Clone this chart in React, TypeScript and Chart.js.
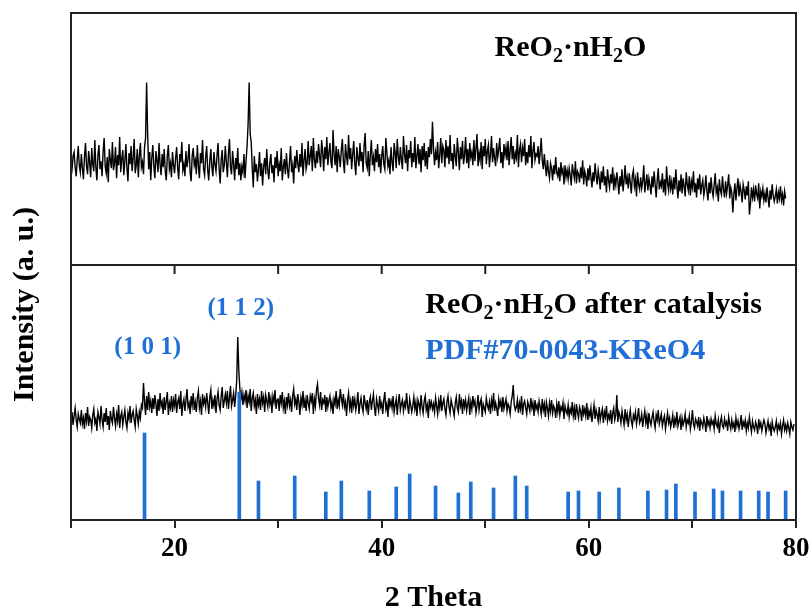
import React, { useEffect, useRef } from 'react';
import { Chart, registerables } from 'chart.js';

Chart.register(...registerables);

// 2θ grid of the measured patterns
const X_START = 10;
const X_STEP = 0.1;

// ReO2·nH2O (top panel), intensity a.u., 10.0 … 79.0 step 0.1
const topPattern = [
  100,95,108,112,97,88,104,118,99,92,
  110,96,85,107,121,98,90,113,102,87,
  116,100,93,124,97,84,109,119,95,103,
  88,112,126,98,91,107,82,115,104,96,
  122,94,101,117,86,109,99,127,92,105,
  114,89,103,120,96,83,111,100,118,93,
  106,125,91,99,115,87,108,121,97,102,
  90,117,126,181,130,95,112,84,106,119,
  98,86,113,104,92,121,100,89,110,97,
  115,93,84,108,119,95,101,87,112,99,
  91,106,117,96,85,110,102,122,94,100,
  88,113,97,105,120,92,83,108,116,99,
  104,90,119,98,86,111,101,124,95,89,
  107,118,94,84,103,115,97,88,112,100,
  93,109,121,96,81,104,114,92,99,118,
  102,87,110,125,97,90,113,100,84,106,
  95,116,89,101,84,98,92,110,86,103,
  118,140,181,130,122,96,77,108,92,100,
  83,95,112,88,101,79,98,106,90,115,
  94,85,102,110,91,99,82,107,96,113,
  88,100,93,116,84,97,105,90,111,95,
  86,103,118,92,99,81,108,96,114,100,
  92,110,97,121,88,104,115,95,101,123,
  99,108,118,93,126,104,96,113,101,120,
  108,97,124,112,93,117,105,127,99,111,
  121,102,96,134,110,99,118,92,115,107,
  97,114,125,103,91,120,108,99,129,105,
  116,95,110,123,100,89,117,106,98,121,
  103,112,92,118,131,101,96,113,88,109,
  124,99,107,93,115,102,120,97,110,91,
  108,118,100,95,126,111,98,104,90,117,
  102,93,121,112,96,125,108,99,117,104,
  95,128,110,101,119,93,114,106,123,97,
  111,102,127,96,108,120,100,115,92,118,
  104,121,98,113,95,117,107,125,110,142,
  115,99,112,104,122,96,109,126,101,118,
  114,97,124,106,118,100,129,103,111,95,
  120,108,98,126,112,94,117,105,123,100,
  109,127,101,115,96,121,107,112,99,124,
  103,116,130,98,111,104,122,95,118,108,
  125,100,113,119,97,110,128,102,116,106,
  98,121,107,115,126,101,112,96,120,109,
  117,104,123,99,113,127,105,118,100,111,
  106,129,97,114,120,102,116,108,125,99,
  112,101,119,107,128,96,113,122,104,110,
  108,118,100,112,126,104,95,110,98,88,
  104,93,86,101,96,84,99,90,107,92,
  88,97,83,102,91,95,80,99,87,94,
  85,96,89,79,100,92,86,103,81,93,
  90,82,97,86,104,80,93,88,78,96,
  84,99,87,77,92,83,101,89,80,94,
  86,75,93,82,98,79,88,72,95,84,
  77,90,81,97,74,86,79,92,83,70,
  88,78,95,73,84,99,80,87,76,91,
  82,71,89,94,78,85,68,92,80,75,
  87,76,83,99,72,81,90,74,86,79,
  70,88,77,93,80,67,84,96,75,82,
  78,91,72,85,69,98,81,74,89,76,
  83,70,87,75,95,79,66,84,73,90,
  71,86,78,68,92,80,74,88,69,83,
  77,93,72,81,67,86,75,90,70,79,
  84,69,76,89,73,64,82,71,87,74,
  68,80,91,72,77,63,85,74,70,88,
  75,67,83,71,79,90,66,77,72,52,
  70,81,64,76,86,68,79,73,62,80,
  74,65,78,69,83,50,60,77,67,75,
  63,79,70,66,81,56,73,68,76,64,
  71,62,77,67,57,74,65,80,69,63,
  68,75,61,72,66,78,64,70,59,73,
  66,
];

// ReO2·nH2O after catalysis (bottom panel), intensity a.u., 10.0 … 79.8 step 0.1
const bottomPattern = [
  98,108,95,104,112,100,93,106,101,97,
  110,96,102,91,107,99,113,94,103,100,
  92,105,111,97,101,89,108,103,96,114,
  100,93,107,98,112,95,104,90,109,101,
  97,113,102,94,106,99,115,92,104,108,
  95,103,110,98,92,107,101,114,97,105,
  109,100,93,111,104,96,108,102,115,112,
  137,118,105,124,110,128,113,119,107,122,
  111,125,116,104,121,109,127,114,118,106,
  123,110,119,128,105,117,112,124,108,120,
  114,126,107,118,122,111,129,104,116,121,
  109,120,131,113,117,106,124,115,127,110,
  118,108,122,129,112,119,105,126,116,121,
  113,127,117,106,123,130,111,120,114,125,
  107,121,128,115,110,124,133,112,119,126,
  117,129,111,122,134,114,120,127,113,124,
  140,183,150,132,121,128,115,125,119,130,
  112,124,118,131,109,122,127,114,120,106,
  126,115,121,110,129,117,123,108,125,119,
  113,128,116,122,107,124,118,130,111,120,
  121,109,125,117,128,112,119,106,123,115,
  127,114,120,108,124,131,116,121,110,126,
  118,105,122,115,129,112,120,109,125,117,
  111,124,119,127,106,121,114,130,136,122,
  115,128,110,120,117,125,108,123,113,119,
  124,112,118,106,121,116,129,111,120,114,
  131,122,115,126,113,118,104,120,127,112,
  119,107,124,114,121,110,117,128,106,116,
  122,113,108,125,117,111,120,105,118,123,
  110,119,126,112,104,121,115,109,124,113,
  117,106,120,128,111,116,103,122,114,119,
  112,124,108,115,121,105,118,126,110,116,
  120,109,117,113,127,114,106,121,115,108,
  114,123,111,118,104,120,116,109,125,113,
  107,119,124,110,115,102,121,113,118,111,
  116,108,122,114,106,119,112,125,109,117,
  121,111,105,118,124,113,107,120,115,110,
  104,117,123,112,108,126,114,119,106,121,
  113,120,109,116,122,105,118,111,124,115,
  119,107,114,125,110,117,121,103,116,112,
  108,122,115,111,118,106,120,113,127,109,
  117,112,104,121,114,119,108,123,111,116,
  121,109,116,113,106,118,124,135,115,110,
  113,120,107,117,111,124,105,116,119,112,
  106,118,114,109,122,112,117,104,120,111,
  115,108,119,113,106,121,110,116,103,118,
  112,104,117,109,120,107,114,111,102,116,
  108,119,105,113,110,117,101,114,109,106,
  115,103,111,107,118,104,112,100,116,108,
  102,113,109,99,115,106,111,104,117,100,
  109,104,112,98,107,115,101,110,105,99,
  113,100,106,111,97,108,103,114,99,105,
  101,110,96,107,112,100,105,125,98,108,
  104,97,109,102,95,111,100,106,93,103,
  110,99,94,105,101,108,96,103,112,97,
  100,106,93,102,109,97,104,91,107,99,
  95,103,108,98,92,105,100,110,96,101,
  106,94,100,104,91,99,107,97,102,93,
  98,105,92,101,96,108,94,99,103,90,
  102,95,99,106,93,100,97,104,91,98,
  110,96,92,101,98,94,103,89,100,97,
  93,102,97,88,104,95,99,92,101,96,
  99,91,104,96,93,100,87,98,103,94,
  92,101,95,98,89,103,96,91,100,93,
  97,88,102,94,99,91,96,105,90,98,
  94,100,89,97,92,103,95,88,99,93,
  90,98,94,86,101,93,97,89,95,100,
  96,87,93,99,91,95,84,98,92,89,
  93,99,88,95,91,97,86,94,100,90,
  95,89,97,92,86,98,93,90,96,
];

// PDF#70-0043 KReO4 reference lines
const refPositions = [
  17.1, 26.25, 28.1, 31.6, 34.6, 36.1, 38.8, 41.4, 42.7, 45.2,
  47.4, 48.6, 50.8, 52.9, 54.0, 58.0, 59.0, 61.0, 62.9, 65.7,
  67.5, 68.4, 70.25, 72.05, 72.9, 74.65, 76.4, 77.3, 79.0,
];
const refHeights = [
  87, 128, 39, 44, 28, 39, 29, 33, 46, 34,
  27, 38, 32, 44, 34, 28, 29, 28, 32, 29,
  30, 36, 28, 31, 29, 29, 29, 28, 29,
];

const xLabelValues = [20, 40, 60, 80];
const xMin = 10;
const xMax = 80;

const SERIF = "'Liberation Serif', 'Times New Roman', serif";
const BLUE = '#1f6fd6';

type Seg = [string, boolean];

function drawRich(ctx: CanvasRenderingContext2D, segs: Seg[], x: number, y: number, size: number, color: string) {
  let cx = x;
  ctx.fillStyle = color;
  ctx.textAlign = 'left';
  ctx.textBaseline = 'alphabetic';
  for (const [t, sub] of segs) {
    const s = sub ? Math.round(size * 0.68) : size;
    ctx.font = `bold ${s}px ${SERIF}`;
    ctx.fillText(t, cx, sub ? y + size * 0.2 : y);
    cx += ctx.measureText(t).width;
  }
}

const annotatePlugin = {
  id: 'annotate',
  afterDatasetsDraw(chart: any) {
    const { ctx, chartArea: a, scales } = chart;
    const x = scales.x;
    const yTop = scales.yTop;
    const yBot = scales.yBot;
    ctx.save();
    // frame
    ctx.strokeStyle = '#222';
    ctx.lineWidth = 2;
    ctx.strokeRect(a.left, a.top, a.right - a.left, a.bottom - a.top);
    const divY = yBot.top;
    ctx.beginPath();
    ctx.moveTo(a.left, divY);
    ctx.lineTo(a.right, divY);
    for (const t of x.ticks) {
      const px = x.getPixelForValue(t.value);
      ctx.moveTo(px, divY);
      ctx.lineTo(px, divY + 9);
    }
    ctx.stroke();

    // panel labels
    const formula: Seg[] = [['ReO', false], ['2', true], ['·nH', false], ['2', true], ['O', false]];
    drawRich(ctx, formula, x.getPixelForValue(50.9), yTop.getPixelForValue(207), 30, '#000');
    drawRich(ctx, [...formula, [' after catalysis', false]], x.getPixelForValue(44.2), yBot.getPixelForValue(207), 30, '#000');
    drawRich(ctx, [['PDF#70-0043-KReO4', false]], x.getPixelForValue(44.2), yBot.getPixelForValue(161), 30, BLUE);

    ctx.font = `bold 25px ${SERIF}`;
    ctx.fillStyle = BLUE;
    ctx.textAlign = 'center';
    ctx.textBaseline = 'alphabetic';
    ctx.fillText('(1 1 2)', x.getPixelForValue(26.4), yBot.getPixelForValue(205));
    ctx.fillText('(1 0 1)', x.getPixelForValue(17.4), yBot.getPixelForValue(166));

    // y title
    ctx.translate(33, (a.top + a.bottom) / 2 + 38);
    ctx.rotate(-Math.PI / 2);
    ctx.font = `bold 30px ${SERIF}`;
    ctx.fillStyle = '#000';
    ctx.textAlign = 'center';
    ctx.fillText('Intensity (a. u.)', 0, 0);
    ctx.restore();
  },
};

export default function App() {
  const ref = useRef<HTMLCanvasElement | null>(null);
  useEffect(() => {
    if (!ref.current) return;
    const toPoints = (arr: number[]) => arr.map((v, i) => ({ x: +(X_START + i * X_STEP).toFixed(2), y: v }));
    const chart = new Chart(ref.current, {
      type: 'line',
      data: {
        datasets: [
          {
            type: 'bar',
            label: 'PDF#70-0043-KReO4',
            data: refPositions.map((p, i) => ({ x: p, y: refHeights[i] })),
            backgroundColor: BLUE,
            barThickness: 3,
            yAxisID: 'yBot',
          } as any,
          {
            label: 'ReO2·nH2O',
            data: toPoints(topPattern),
            borderColor: '#000',
            borderWidth: 1.4,
            pointRadius: 0,
            tension: 0,
            yAxisID: 'yTop',
          },
          {
            label: 'ReO2·nH2O after catalysis',
            data: toPoints(bottomPattern),
            borderColor: '#000',
            borderWidth: 1.4,
            pointRadius: 0,
            tension: 0,
            yAxisID: 'yBot',
          },
        ],
      },
      options: {
        animation: false,
        responsive: true,
        maintainAspectRatio: false,
        layout: { padding: { left: 71, right: 14, top: 13, bottom: 0 } },
        plugins: { legend: { display: false }, tooltip: { enabled: false } },
        scales: {
          x: {
            type: 'linear',
            min: xMin,
            max: xMax,
            offset: false,
            ticks: {
              stepSize: 10,
              autoSkip: false,
              maxRotation: 0,
              color: '#000',
              padding: 5,
              font: { family: SERIF, size: 27, weight: 'bold' },
              callback: (v: any) => (xLabelValues.includes(Number(v)) ? String(v) : ''),
            },
            grid: { display: true, offset: false, drawOnChartArea: false, drawTicks: true, tickLength: 8, color: '#222', lineWidth: 2 },
            border: { display: true, color: '#222', width: 2 },
            title: {
              display: true,
              text: '2 Theta',
              color: '#000',
              font: { family: SERIF, size: 30, weight: 'bold', lineHeight: 0.9 },
              padding: { top: 0, bottom: 0 },
            },
            afterFit: (s: any) => { s.height = 92; s.paddingLeft = 0; s.paddingRight = 0; },
          },
          yBot: {
            type: 'linear',
            position: 'left',
            stack: 'panels',
            stackWeight: 255,
            min: 0,
            max: 255,
            ticks: { display: false },
            grid: { display: false },
            border: { display: false },
            afterFit: (s: any) => { s.width = 0; },
          },
          yTop: {
            type: 'linear',
            position: 'left',
            stack: 'panels',
            stackWeight: 252,
            min: 0,
            max: 250,
            ticks: { display: false },
            grid: { display: false },
            border: { display: false },
            afterFit: (s: any) => { s.width = 0; },
          },
        },
      } as any,
      plugins: [annotatePlugin],
    });
    return () => chart.destroy();
  }, []);
  return (
    <div style={{ position: 'absolute', left: 0, top: 0, width: 810, height: 612, background: '#fff' }}>
      <canvas ref={ref} />
    </div>
  );
}
